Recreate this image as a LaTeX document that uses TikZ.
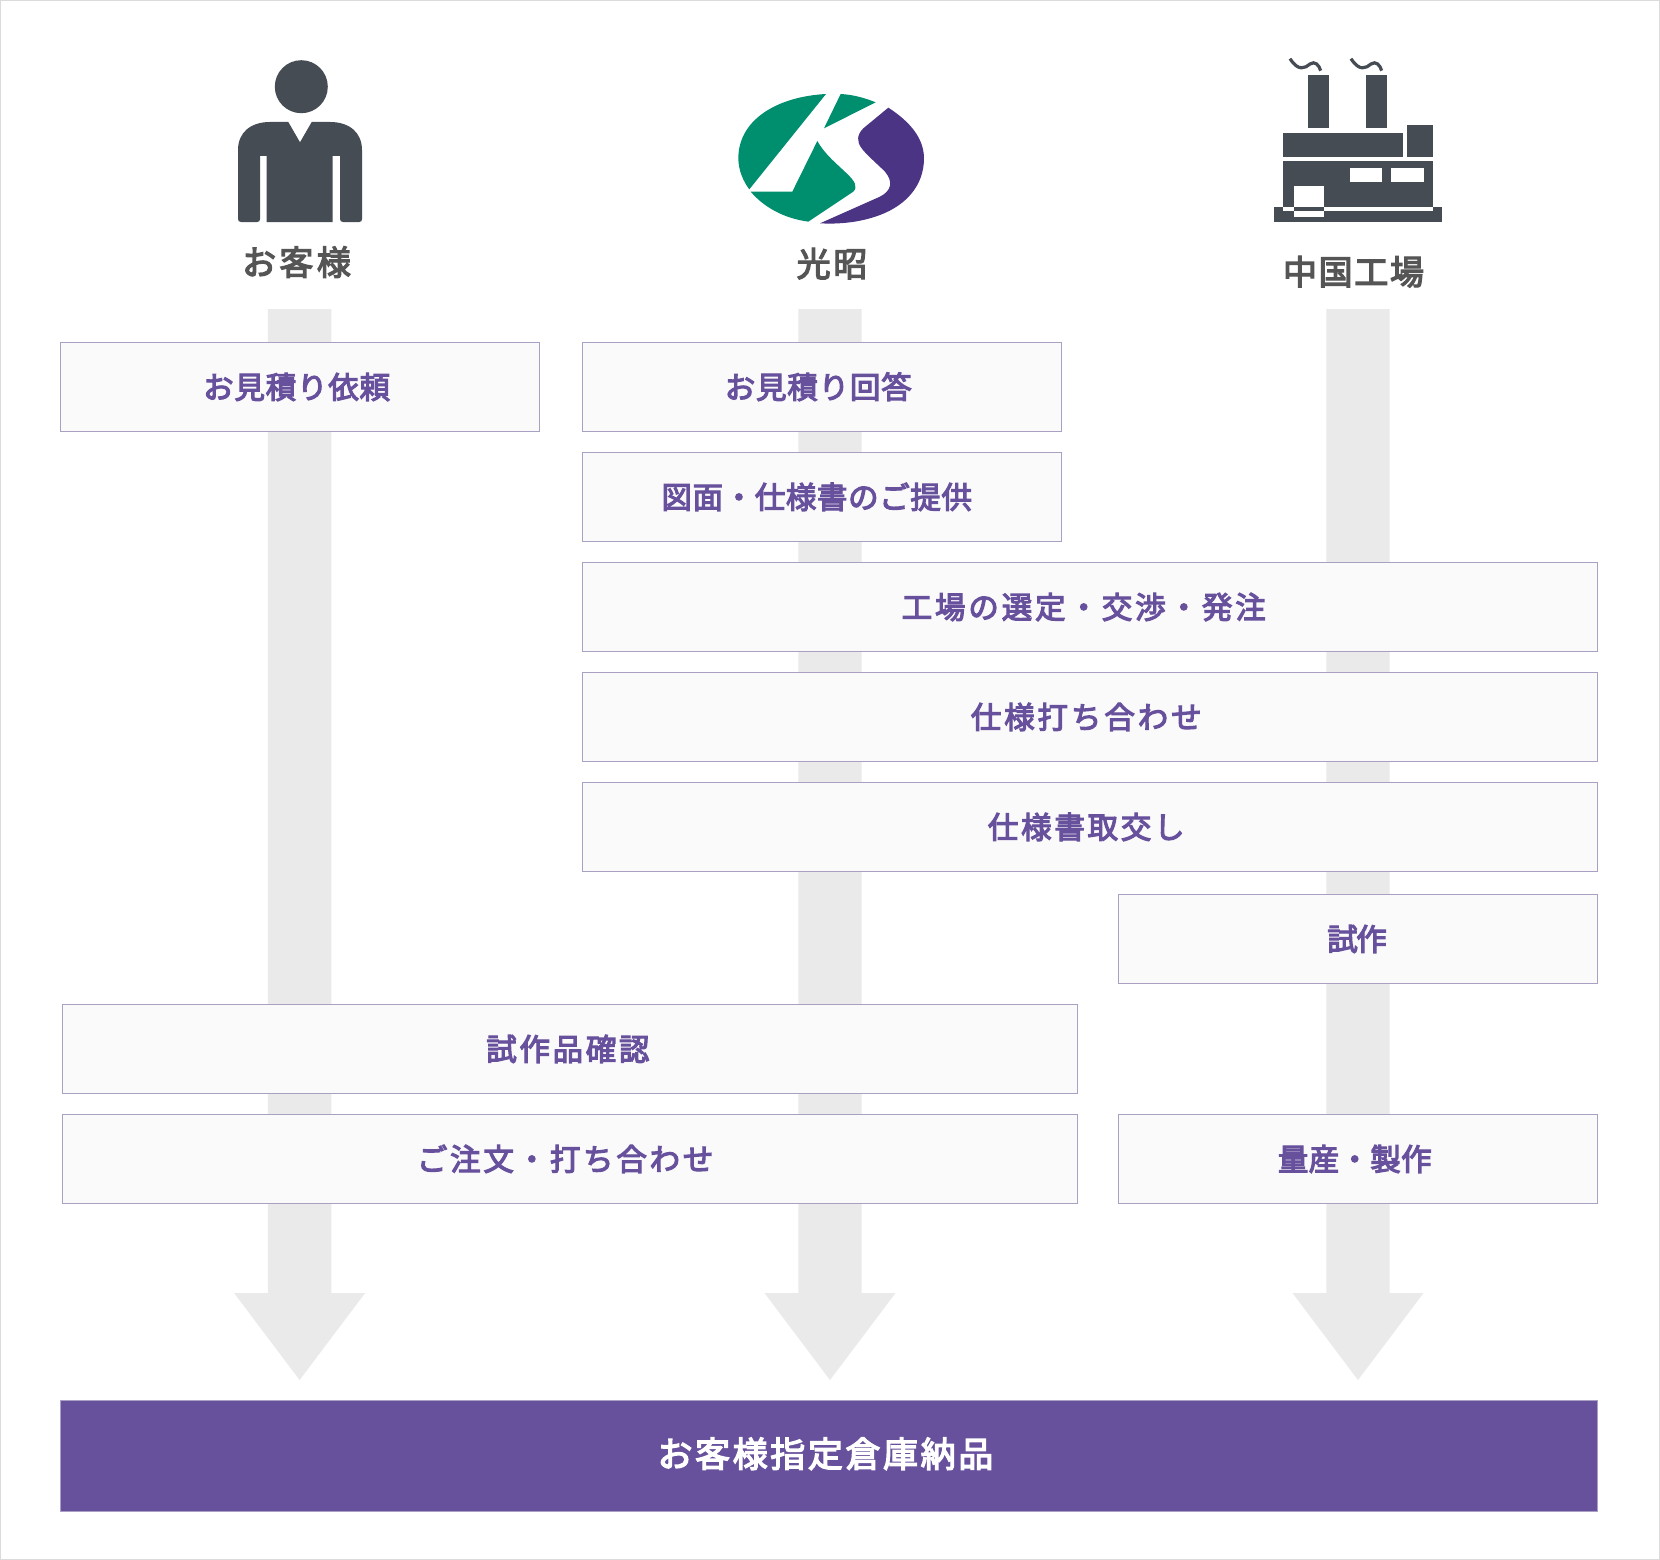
\documentclass[tikz,border=0pt]{standalone}
\usepackage{fontspec}
\newfontfamily\jpf{Noto Sans CJK JP}[FakeBold=3.8]
\definecolor{shaftc}{HTML}{EAEAEA}
\definecolor{boxf}{HTML}{FAFAFB}
\definecolor{boxd}{HTML}{A9A0C4}
\definecolor{purp}{HTML}{67509C}
\definecolor{icon}{HTML}{454C54}
\definecolor{headc}{HTML}{555555}
\definecolor{lgreen}{HTML}{008F6E}
\definecolor{lpurp}{HTML}{4B3483}
\tikzset{
  flowbox/.style={draw=boxd,fill=boxf,line width=1pt,inner sep=0pt,text=purp,text height=27pt,text depth=4pt,font=\jpf\fontsize{30.5}{30.5}\selectfont},
  finalbox/.style={draw=boxd,fill=purp,line width=1pt,inner sep=0pt,text=white,text height=30pt,text depth=8pt,font=\jpf\fontsize{35}{35}\selectfont},
  headlabel/.style={inner sep=0pt,text=headc,text height=30pt,text depth=5pt,font=\jpf\fontsize{34}{34}\selectfont},
  shaft/.style={fill=shaftc,draw=none},
  iconfill/.style={fill=icon,draw=none}
}
\newcommand{\ls}[1]{\addfontfeature{LetterSpace=#1}}
\newcommand{\flowb}[8]{%
  \pgfmathsetmacro\bw{#4-#2-1}\pgfmathsetmacro\bh{#5-#3-1}%
  \node[flowbox,minimum width=\bw pt,minimum height=\bh pt] (#1) at ({(#2+#4)/2},{(#3+#5)/2}) {\ls{#6}#7\kern#8pt\relax};}
\newcommand{\downarrowshape}[1]{%
  \fill[shaftc] (#1-31.7,309) -- (#1+31.7,309) -- (#1+31.7,1293) -- (#1+65.5,1293) -- (#1,1380) -- (#1-65.5,1293) -- (#1-31.7,1293) -- cycle;}
\begin{document}
\begin{tikzpicture}[x=1pt,y=-1pt]
\useasboundingbox (0,0) rectangle (1660,1560);
\fill[white] (0,0) rectangle (1660,1560);
\draw[draw=black!14,line width=1pt] (0.5,0.5) rectangle (1659.5,1559.5);

% column arrows
\downarrowshape{299.6}
\downarrowshape{830}
\downarrowshape{1358}

% person
\fill[iconfill] (301.3,86.7) circle (26.5);
\fill[iconfill] (288.3,122) -- (300,142.3) -- (311.7,122) -- (330,122)
  .. controls (350,122) and (362,133) .. (362,150) -- (362,219) .. controls (362,221) and (361,222) .. (359,222)
  -- (343,222) .. controls (341,222) and (340,221) .. (340,219) -- (340,156) -- (332.7,156) -- (332.7,222)
  -- (266.7,222) -- (266.7,156) -- (260,156) -- (260,219) .. controls (260,221) and (259,222) .. (257,222)
  -- (241,222) .. controls (239,222) and (238,221) .. (238,219) -- (238,150)
  .. controls (238,133) and (250,122) .. (270,122) -- cycle;

% logo (zoom coords /3 + offset)
\begin{scope}[shift={(710,70)},x=0.3333pt,y=-0.3333pt]
\fill[lgreen] (348,72) .. controls (200,80) and (85,150) .. (85,265) .. controls (85,300) and (100,335) .. (118,358) -- cycle;
\fill[lgreen] (392,72) .. controls (430,74) and (465,84) .. (497,97) -- (342,175) -- cycle;
\fill[lgreen] (122,365) -- (247,365) -- (322,213) .. controls (345,255) and (385,285) .. (415,315) .. controls (432,332) and (445,350) .. (430,365) -- (295,455) .. controls (220,445) and (160,410) .. (122,365) -- cycle;
\fill[lpurp] (535,113) .. controls (600,155) and (642,205) .. (642,265) .. controls (642,345) and (590,405) .. (510,435) .. controls (450,458) and (385,463) .. (330,460)
  -- (510,380) .. controls (545,362) and (550,335) .. (525,305) .. controls (500,280) and (470,255) .. (455,235) .. controls (440,215) and (440,195) .. (460,175) -- cycle;
\end{scope}

% factory (zoom coords /3 + offset)
\begin{scope}[shift={(1250,40)},x=0.3333pt,y=-0.3333pt]
\fill[iconfill] (175,105) rectangle (238,265);
\fill[iconfill] (348,105) rectangle (410,265);
\draw[icon,line width=3.2pt] (120,56) .. controls (145,95) and (165,85) .. (180,72) .. controls (195,62) and (207,75) .. (212,92);
\draw[icon,line width=3.2pt] (303,56) .. controls (328,95) and (348,85) .. (363,72) .. controls (378,62) and (390,75) .. (395,92);
\fill[iconfill] (99,280) rectangle (460,350);
\fill[iconfill] (472,254) rectangle (549,350);
\fill[iconfill] (99,364) rectangle (549,500);
\fill[iconfill] (72,500) rectangle (577,545);
\fill[white] (299,385) rectangle (397,425);
\fill[white] (423,385) rectangle (521,425);
\fill[white] (132,438) rectangle (222,500);
\fill[white] (99,500) rectangle (132,514);
\fill[white] (222,500) rectangle (549,514);
\fill[white] (132,514) rectangle (222,532);
\end{scope}

% heads
\node[headlabel] (h1) at (296.5,262.5) {\ls{10}お客様};
\node[headlabel] (h2) at (832,264) {\ls{8}光昭};
\node[headlabel] (h3) at (1353.5,272) {\ls{5}中国工場};

% boxes
\flowb{b1}{60.3}{342}{540}{432}{2.6}{お見積り依頼}{7}
\flowb{b2}{582}{342}{1062}{432}{2.6}{お見積り回答}{7.5}
\flowb{b3}{582}{452}{1062}{542}{2}{図面・仕様書のご提供}{10.5}
\flowb{b4}{582}{562}{1598}{652}{9.4}{工場の選定・交渉・発注}{12.5}
\flowb{b5}{582}{672}{1598}{762}{9.5}{仕様打ち合わせ}{7.5}
\flowb{b6}{582}{782}{1598}{872}{9}{仕様書取交し}{7.5}
\flowb{b7}{1118}{894}{1598}{984}{-5}{試作}{2}
\flowb{b8}{61.8}{1004}{1078}{1094}{8.8}{試作品確認}{4}
\flowb{b9}{61.8}{1114}{1078}{1204}{9}{ご注文・打ち合わせ}{9.5}
\flowb{b10}{1118}{1114}{1598}{1204}{1}{量産・製作}{6.5}
\node[finalbox,minimum width=1536.7pt,minimum height=111.5pt] (fin) at (829.15,1456) {\ls{7.4}お客様指定倉庫納品\kern7.5pt\relax};
\end{tikzpicture}
\end{document}
